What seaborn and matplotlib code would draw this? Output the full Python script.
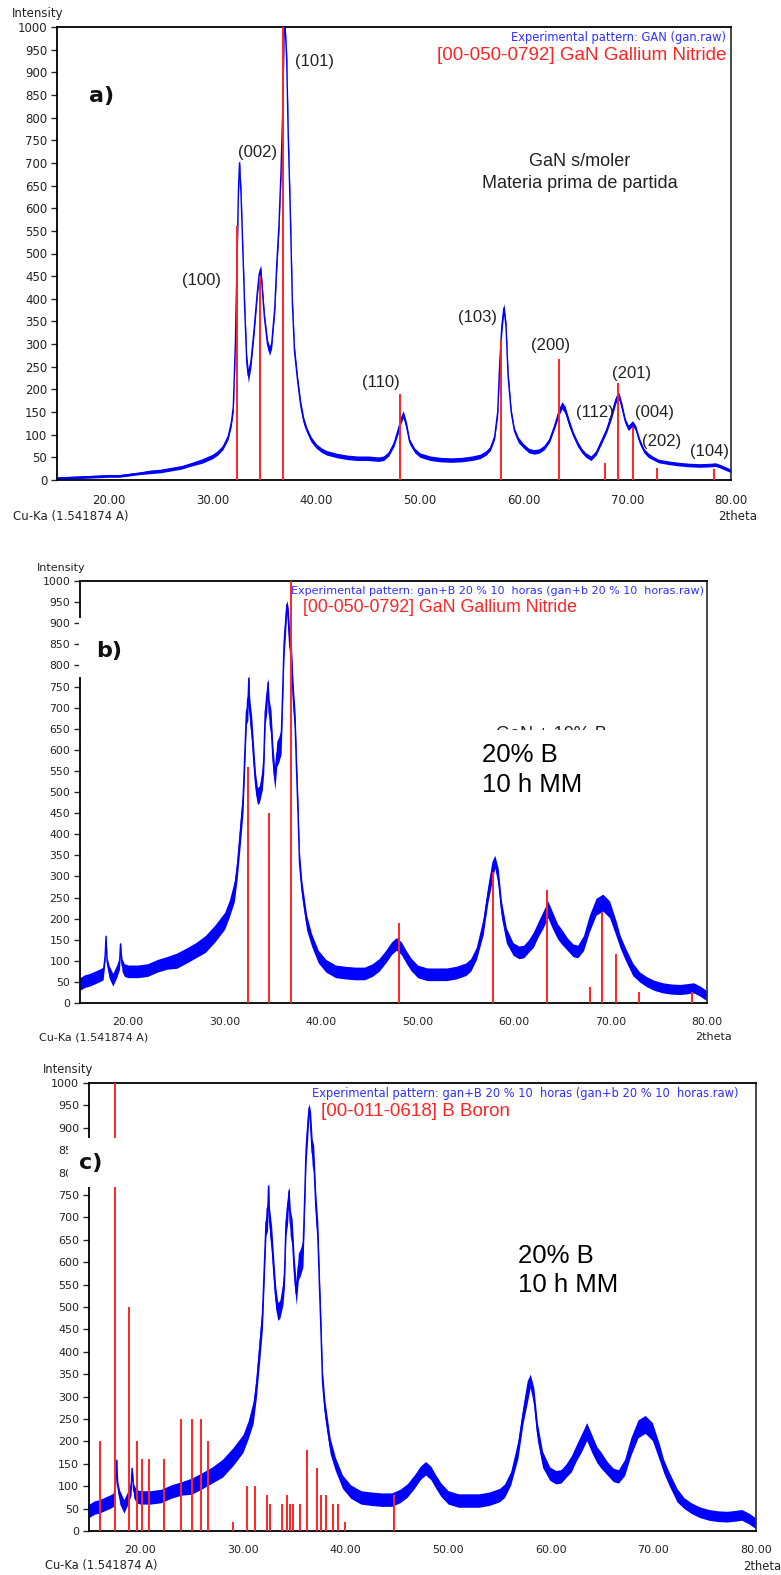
import numpy as np
import pandas as pd
import matplotlib
matplotlib.use("Agg")
import matplotlib.pyplot as plt
from matplotlib.patches import Rectangle
import seaborn as sns

sns.set_style("ticks")
plt.rcParams['font.family'] = ['DejaVu Sans']

# ---------------------------------------------------------------- data
# GaN starting powder (gan.raw): 2theta, counts and noise half-width
gan_2theta = [
    15, 16, 17, 18, 19, 20, 21, 22, 23, 24,
    25, 26, 27, 28, 29, 30, 30.5, 31, 31.5, 31.8,
    32.0, 32.2, 32.35, 32.5, 32.6, 32.75, 32.9, 33.1, 33.3, 33.45,
    33.7, 34.0, 34.3, 34.5, 34.65, 34.8, 35.0, 35.3, 35.5, 35.7,
    36.0, 36.2, 36.4, 36.6, 36.75, 36.9, 37.0, 37.15, 37.3, 37.5,
    37.7, 37.9, 38.2, 38.5, 38.8, 39.1, 39.5, 40.0, 40.5, 41,
    42, 43, 44, 45, 46, 46.5, 47, 47.5, 47.9, 48.2,
    48.4, 48.7, 49.0, 49.5, 50, 51, 52, 53, 54, 55,
    55.8, 56.4, 56.8, 57.2, 57.5, 57.7, 57.9, 58.1, 58.3, 58.5,
    58.8, 59.1, 59.5, 60, 60.5, 61, 61.5, 62, 62.5, 63.0,
    63.4, 63.7, 64.0, 64.4, 64.8, 65.2, 65.6, 66.0, 66.5, 67.0,
    67.5, 68.0, 68.5, 68.9, 69.2, 69.5, 69.8, 70.1, 70.5, 70.8,
    71.2, 71.6, 72, 72.5, 73, 74, 75, 76, 77, 78,
    78.5, 79, 79.5, 80,
]
gan_counts = [
    4, 5, 6, 7, 8, 9, 9, 12, 15, 18,
    20, 24, 28, 35, 42, 52, 60, 72, 95, 125,
    160, 300, 470, 640, 700, 630, 520, 380, 260, 230,
    260, 330, 410, 455, 465, 420, 360, 300, 285, 300,
    380, 480, 560, 680, 800, 990, 1000, 930, 760, 590,
    390, 285, 220, 165, 130, 110, 90, 75, 66, 60,
    54, 50, 48, 48, 46, 48, 58, 80, 110, 135,
    145, 120, 85, 65, 55, 48, 45, 44, 45, 48,
    52, 60, 70, 95, 150, 260, 340, 380, 340, 230,
    150, 110, 88, 75, 65, 62, 64, 72, 88, 120,
    150, 165, 155, 125, 100, 80, 65, 55, 48, 60,
    85, 110, 145, 178, 185, 160, 130, 115, 125, 115,
    85, 65, 55, 48, 42, 38, 35, 33, 32, 33,
    34, 30, 25, 20,
]
gan_noise = [
    3, 3, 3, 3, 3, 3, 3, 3, 3, 4,
    4, 4, 4, 4, 5, 5, 5, 5, 6, 8,
    10, 15, 15, 12, 10, 12, 12, 15, 15, 15,
    12, 12, 10, 10, 10, 10, 10, 10, 10, 10,
    12, 15, 15, 15, 15, 10, 5, 15, 15, 15,
    15, 12, 10, 10, 8, 6, 6, 5, 5, 5,
    5, 5, 5, 5, 5, 5, 5, 6, 8, 8,
    8, 8, 6, 5, 5, 5, 5, 5, 5, 5,
    5, 5, 5, 6, 10, 15, 15, 10, 10, 12,
    8, 6, 6, 5, 5, 5, 5, 5, 5, 6,
    8, 8, 8, 8, 6, 6, 5, 5, 5, 5,
    6, 6, 8, 8, 8, 8, 6, 6, 6, 6,
    6, 5, 5, 4, 4, 4, 4, 4, 4, 4,
    4, 4, 4, 4,
]

# GaN + 20 % B, 10 h milling (gan+b 20 % 10 horas.raw)
ganb_2theta = [
    15, 15.5, 16, 16.5, 17, 17.4, 17.6, 17.7, 17.8, 18.0,
    18.4, 18.8, 19.1, 19.2, 19.35, 19.6, 20, 21, 22, 23,
    24, 25, 26, 27, 28, 29, 29.5, 30, 30.5, 31,
    31.3, 31.6, 31.9, 32.1, 32.25, 32.4, 32.5, 32.6, 32.8, 33.0,
    33.2, 33.4, 33.6, 33.9, 34.05, 34.2, 34.35, 34.5, 34.6, 34.8,
    35.0, 35.2, 35.4, 35.6, 35.85, 36.0, 36.15, 36.3, 36.45, 36.6,
    36.75, 36.9, 37.1, 37.3, 37.45, 37.6, 37.75, 38.0, 38.5, 39.0,
    39.7, 40.5, 41.5, 42.5, 43.5, 44.5, 45.3, 46.0, 46.7, 47.3,
    47.8, 48.3, 48.8, 49.3, 50.0, 51, 52, 53, 54, 55,
    55.5, 56.1, 56.8, 57.3, 57.7, 58.0, 58.35, 58.7, 59.2, 59.9,
    60.5, 61.0, 61.5, 62.0, 62.5, 63.0, 63.5, 64.0, 64.5, 64.9,
    65.5, 66.1, 66.6, 67.2, 67.8, 68.5, 69.2, 69.9, 70.6, 71.0,
    71.5, 72.3, 73.0, 73.7, 74.5, 75.4, 76.3, 77.2, 78.0, 78.6,
    79.3, 79.8, 80,
]
ganb_counts = [
    45, 52, 55, 60, 65, 70, 110, 158, 100, 75,
    55, 75, 95, 140, 90, 78, 75, 75, 78, 88,
    95, 100, 112, 125, 140, 165, 180, 195, 225, 265,
    320, 400, 480, 600, 690, 700, 770, 690, 650, 580,
    520, 490, 495, 530, 575, 690, 715, 760, 690, 665,
    580, 530, 590, 600, 620, 730, 850, 900, 945, 905,
    845, 830, 725, 660, 550, 450, 335, 270, 190, 150,
    110, 88, 75, 72, 70, 70, 78, 90, 110, 130,
    140, 130, 110, 92, 75, 68, 68, 68, 72, 80,
    90, 118, 182, 260, 310, 335, 300, 221, 160, 128,
    120, 122, 135, 150, 175, 197, 222, 195, 170, 158,
    140, 125, 122, 142, 188, 228, 238, 222, 175, 145,
    118, 80, 62, 51, 42, 36, 33, 32, 34, 36,
    28, 20, 18,
]
ganb_noise = [
    15, 15, 15, 15, 15, 15, 10, 5, 10, 15,
    15, 15, 15, 5, 15, 15, 15, 15, 15, 15,
    15, 18, 18, 18, 20, 20, 20, 20, 20, 25,
    25, 30, 30, 30, 30, 30, 10, 30, 30, 30,
    25, 20, 20, 25, 30, 30, 30, 10, 30, 30,
    30, 25, 30, 30, 30, 30, 30, 30, 10, 30,
    30, 30, 30, 30, 30, 30, 25, 20, 18, 15,
    15, 15, 15, 15, 15, 15, 15, 15, 15, 15,
    15, 15, 15, 15, 15, 15, 15, 15, 15, 15,
    15, 15, 20, 20, 25, 15, 20, 20, 18, 15,
    15, 15, 15, 18, 18, 20, 20, 20, 18, 18,
    15, 15, 15, 18, 20, 20, 20, 20, 18, 15,
    15, 15, 12, 12, 12, 12, 12, 12, 12, 12,
    12, 12, 12,
]

# Reference card [00-050-0792] GaN Gallium Nitride
gan_card_2theta = [32.39, 34.56, 36.84, 48.09, 57.78, 63.44, 67.82, 69.11, 70.52, 72.90, 78.40]
gan_card_int = [560, 450, 1000, 190, 310, 268, 37, 215, 117, 27, 25]

# Reference card [00-011-0618] B Boron
boron_card_2theta = [16.07, 17.53, 18.93, 19.64, 20.13, 20.81, 22.27, 23.93, 25.03, 25.94,
                     26.56, 29.02, 30.35, 31.16, 32.36, 32.59, 33.79, 34.25, 34.54, 34.86,
                     35.57, 36.25, 37.23, 37.59, 38.05, 38.76, 39.25, 39.96, 44.73]
boron_card_int = [200, 1000, 500, 200, 160, 160, 160, 250, 250, 250,
                  200, 20, 100, 100, 80, 60, 60, 80, 60, 60,
                  60, 180, 140, 80, 80, 60, 60, 20, 80]

# Miller indices of the GaN reflections
hkl_labels = ["(100)", "(002)", "(101)", "(110)", "(103)", "(200)",
              "(112)", "(201)", "(004)", "(202)", "(104)"]
hkl_pos = [(28.98, 441), (34.38, 724), (39.79, 923), (46.25, 216), (55.60, 358), (62.64, 296),
           (66.89, 150), (70.45, 234), (72.67, 148), (73.35, 84), (77.88, 64)]

x_ticks = [20, 30, 40, 50, 60, 70, 80]
y_ticks = list(range(0, 1001, 50))

# ---------------------------------------------------------------- layout
W, H = 781, 1575
fig = plt.figure(figsize=(W / 100, H / 100), dpi=100)

BLUE = '#0000ff'
RED = '#ff2424'
TXT = '#222222'
ARIAL = ['Liberation Sans', 'DejaVu Sans']


def fx(px):
    return px / W


def fy(py):
    return 1 - py / H


def add_axes(l, t, r, b):
    return fig.add_axes([fx(l), fy(b), (r - l) / W, (b - t) / H])


def draw_panel(ax, tt, counts, noise, card_tt, card_int, fs):
    tt = np.asarray(tt, float)
    c = np.asarray(counts, float)
    n = np.asarray(noise, float)
    ax.fill_between(tt, np.clip(c - n, 0, None), c + n, color=BLUE, lw=0, zorder=2)
    df = pd.DataFrame({'2theta': tt, 'Intensity': c})
    sns.lineplot(data=df, x='2theta', y='Intensity', ax=ax, color=BLUE, lw=1.0,
                 estimator=None, sort=False, zorder=3)
    ax.vlines(card_tt, 0, card_int, color=RED, lw=1.4, zorder=4)
    ax.set_xlim(15, 80)
    ax.set_ylim(0, 1000)
    ax.set_xlabel('')
    ax.set_ylabel('')
    ax.set_xticks(x_ticks)
    ax.set_xticklabels([f"{v:.2f}" for v in x_ticks])
    ax.set_yticks(y_ticks)
    ax.set_yticklabels([str(v) for v in y_ticks])
    ax.tick_params(axis='x', length=0, pad=10, labelsize=fs, labelcolor=TXT)
    ax.tick_params(axis='y', length=4, width=1.0, pad=3, labelsize=fs, labelcolor=TXT)
    for side in ['left', 'bottom', 'top']:
        ax.spines[side].set_color('black')
        ax.spines[side].set_linewidth(1.3)
    ax.spines['right'].set_color('#3a3a3a')
    ax.spines['right'].set_linewidth(1.3)
    ax.spines['top'].set_visible(True)
    ax.spines['right'].set_visible(True)


# ---- panel a
ax_a = add_axes(57, 27, 731, 480)
draw_panel(ax_a, gan_2theta, gan_counts, gan_noise, gan_card_2theta, gan_card_int, 8.5)
for lab, (x, y) in zip(hkl_labels, hkl_pos):
    ax_a.text(x, y, lab, ha='center', va='center', fontsize=12, color=TXT, family=ARIAL, zorder=6)
fig.text(fx(12), fy(13), "Intensity", fontsize=8.5, color=TXT, va='center', ha='left')
fig.text(fx(13), fy(516), "Cu-Ka (1.541874 A)", fontsize=8.5, color=TXT, va='center', ha='left')
fig.text(fx(718), fy(517), "2theta", fontsize=8.5, color=TXT, va='center', ha='left')
fig.text(fx(726), fy(37), "Experimental pattern: GAN (gan.raw)", fontsize=8.3, color='#3030ff',
         va='center', ha='right')
fig.text(fx(726), fy(56), "[00-050-0792] GaN Gallium Nitride", fontsize=13.5, color=RED,
         va='center', ha='right', family=ARIAL)
fig.text(fx(580), fy(161), "GaN s/moler", fontsize=13, color=TXT, va='center', ha='center', family=ARIAL)
fig.text(fx(580), fy(184), "Materia prima de partida", fontsize=13, color=TXT, va='center',
         ha='center', family=ARIAL)
fig.text(fx(89), fy(96), "a)", fontsize=16, fontweight='bold', color='#111111', va='center', ha='left')

# ---- panel b
ax_b = add_axes(80, 581, 707, 1003)
draw_panel(ax_b, ganb_2theta, ganb_counts, ganb_noise, gan_card_2theta, gan_card_int, 7.8)
fig.text(fx(37), fy(568), "Intensity", fontsize=8.0, color=TXT, va='center', ha='left')
fig.text(fx(39), fy(1037), "Cu-Ka (1.541874 A)", fontsize=8.0, color=TXT, va='center', ha='left')
fig.text(fx(695), fy(1037), "2theta", fontsize=8.0, color=TXT, va='center', ha='left')
fig.text(fx(291), fy(591), "Experimental pattern: gan+B 20 % 10  horas (gan+b 20 % 10  horas.raw)",
         fontsize=8.0, color='#3030ff', va='center', ha='left')
fig.text(fx(303), fy(608), "[00-050-0792] GaN Gallium Nitride", fontsize=12.8, color=RED,
         va='center', ha='left', family=ARIAL)
fig.text(fx(551), fy(726), "GaN + 10% B", fontsize=13, color=TXT, va='top', ha='center', family=ARIAL)
fig.add_artist(Rectangle((fx(478), fy(800)), 140 / W, 70.5 / H, transform=fig.transFigure,
                         facecolor='white', edgecolor='none', zorder=10))
fig.add_artist(Rectangle((fx(79), fy(677)), 51 / W, 59 / H, transform=fig.transFigure,
                         facecolor='white', edgecolor='none', zorder=10))
fig.text(fx(96), fy(651), "b)", fontsize=16, fontweight='bold', color='#111111', va='center',
         ha='left', zorder=11)
fig.text(fx(482), fy(755), "20% B", fontsize=18.5, color='black', va='center', ha='left',
         family=ARIAL, zorder=11)
fig.text(fx(482), fy(785), "10 h MM", fontsize=18.5, color='black', va='center', ha='left',
         family=ARIAL, zorder=11)

# ---- panel c
ax_c = add_axes(89, 1083, 756, 1531)
draw_panel(ax_c, ganb_2theta, ganb_counts, ganb_noise, boron_card_2theta, boron_card_int, 8.0)
fig.text(fx(43), fy(1070), "Intensity", fontsize=8.3, color=TXT, va='center', ha='left')
fig.text(fx(45), fy(1566), "Cu-Ka (1.541874 A)", fontsize=8.3, color=TXT, va='center', ha='left')
fig.text(fx(743), fy(1566), "2theta", fontsize=8.3, color=TXT, va='center', ha='left')
fig.text(fx(312), fy(1093), "Experimental pattern: gan+B 20 % 10  horas (gan+b 20 % 10  horas.raw)",
         fontsize=8.3, color='#3030ff', va='center', ha='left')
fig.text(fx(321), fy(1112), "[00-011-0618] B Boron", fontsize=13.5, color=RED,
         va='center', ha='left', family=ARIAL)
fig.add_artist(Rectangle((fx(68), fy(1187)), 58 / W, 49 / H, transform=fig.transFigure,
                         facecolor='white', edgecolor='none', zorder=10))
fig.text(fx(79), fy(1163), "c)", fontsize=16, fontweight='bold', color='#111111', va='center',
         ha='left', zorder=11)
fig.text(fx(518), fy(1256), "20% B", fontsize=18.5, color='black', va='center', ha='left',
         family=ARIAL, zorder=11)
fig.text(fx(518), fy(1285), "10 h MM", fontsize=18.5, color='black', va='center', ha='left',
         family=ARIAL, zorder=11)

fig.savefig("out.png", dpi=100)
